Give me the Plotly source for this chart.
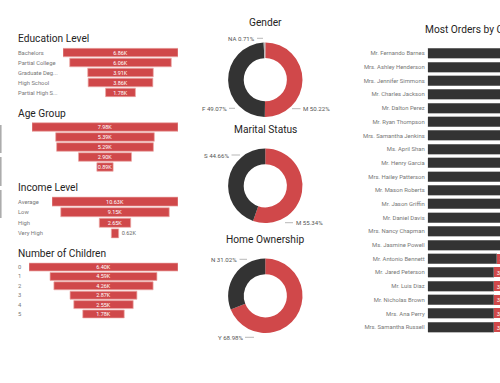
import plotly.graph_objects as go

# ---------------- data ----------------
edu_cats = ["Bachelors", "Partial College", "Graduate Deg...", "High School", "Partial High S..."]
edu_vals = [6.86, 6.06, 3.91, 3.86, 1.78]

age_cats = ["30", "40", "20", "50", "60"]
age_vals = [7.98, 5.39, 5.29, 2.90, 0.89]

inc_cats = ["Average", "Low", "High", "Very High"]
inc_vals = [10.63, 9.15, 2.65, 0.62]

kid_cats = ["0", "2", "1", "4", "3", "5"]
kid_vals = [6.40, 4.59, 4.26, 2.87, 2.55, 1.78]

gender_labels = ["M", "F", "NA"]
gender_vals = [50.22, 49.07, 0.71]
marital_labels = ["M", "S"]
marital_vals = [55.34, 44.66]
home_labels = ["Y", "N"]
home_vals = [68.98, 31.02]

customers = ["Mr. Fernando Barnes", "Mrs. Ashley Henderson", "Mrs. Jennifer Simmons",
             "Mr. Charles Jackson", "Mr. Dalton Perez", "Mr. Ryan Thompson",
             "Mrs. Samantha Jenkins", "Ms. April Shan", "Mr. Henry Garcia",
             "Mrs. Hailey Patterson", "Mr. Mason Roberts", "Mr. Jason Griffin",
             "Mr. Daniel Davis", "Mrs. Nancy Chapman", "Ms. Jasmine Powell",
             "Mr. Antonio Bennett", "Mr. Jared Peterson", "Mr. Luis Diaz",
             "Mr. Nicholas Brown", "Mrs. Ana Perry", "Mrs. Samantha Russell"]
orders_dark = [27, 27, 26, 26, 26, 26, 26, 25, 25, 25, 25, 25, 25, 25, 25, 23, 22, 22, 22, 22, 22]
orders_red = [2, 2, 2, 2, 2, 2, 2, 2, 2, 2, 2, 2, 2, 2, 2, 3, 3, 3, 3, 3, 3]

# ---------------- style ----------------
W, H = 500, 383
RED = "#D0484A"
DARK = "#333333"
LGRAY = "#B8B8B8"
TITLE_C = "#252423"
LABEL_C = "#777777"
FONT = "Roboto"
TITLE_SIZE = 10.2


def fx(px):
    return px / W


def fy(py):
    return 1 - py / H


fig = go.Figure()
annotations = []
layout_axes = {}

# ---------------- funnels ----------------
funnels = [
    ("Education Level", edu_cats, edu_vals, 63, 178, 47.5, 97.5, 38.5),
    ("Age Group", age_cats, age_vals, 32, 178, 122, 172, 113),
    ("Income Level", inc_cats, inc_vals, 52, 178, 196.3, 238.7, 187.5),
    ("Number of Children", kid_cats, kid_vals, 29, 178, 262.3, 318.7, 253),
]

for i, (title, cats, vals, x0, x1, ytop, ybot, ty) in enumerate(funnels, start=1):
    xa, ya = f"x{i}", f"y{i}"
    mx = max(vals)
    tpos = ["inside" if v / mx > 0.1 else "outside" for v in vals]
    fig.add_trace(go.Funnel(
        y=cats, x=vals, xaxis=xa, yaxis=ya,
        marker=dict(color=RED, line=dict(color="#EBA9A6", width=0.7)),
        connector=dict(visible=False),
        texttemplate="%{x:.2f}K", textposition=tpos, textangle=0,
        constraintext="none",
        insidetextfont=dict(color="white", size=5.5, family=FONT),
        outsidetextfont=dict(color="#666666", size=5.5, family=FONT),
        showlegend=False, hoverinfo="x+y",
    ))
    sfx = "" if i == 1 else str(i)
    layout_axes[f"xaxis{sfx}"] = dict(domain=[fx(x0), fx(x1)], range=[-mx / 2, mx / 2],
                                      visible=False, fixedrange=True, anchor=ya)
    layout_axes[f"yaxis{sfx}"] = dict(domain=[fy(ybot), fy(ytop)], type="category",
                                      range=[len(cats) - 0.5, -0.5], visible=False,
                                      anchor=xa, fixedrange=True)
    for c in cats:
        annotations.append(dict(x=fx(16), xref="paper", y=c, yref=ya, text=c,
                                showarrow=False, xanchor="left", yanchor="middle",
                                font=dict(size=5.8, color=LABEL_C, family=FONT)))
    annotations.append(dict(x=fx(15.5), xref="paper", y=fy(ty), yref="paper", text=title,
                            showarrow=False, xanchor="left", yanchor="middle",
                            font=dict(size=TITLE_SIZE, color=TITLE_C, family=FONT)))

# ---------------- donuts ----------------
# label positions: (leader-line tip x, y, text offset in px), in the order of the labels
donuts = [
    ("Gender", gender_labels, gender_vals, [RED, DARK, LGRAY], 79.7, 22.7,
     [(292, 108.7, 24.5), (235, 108.3, -21), (263, 38.3, -22)]),
    ("Marital Status", marital_labels, marital_vals, [RED, DARK], 185.8, 129.5,
     [(285, 222.7, 24), (240, 155, -23.5)]),
    ("Home Ownership", home_labels, home_vals, [RED, DARK], 295.8, 239.5,
     [(254, 337.3, -24), (247, 259.3, -23)]),
]
CX, R = 265.3, 37.2
for title, labs, vals, cols, cy, ty, lblpos in donuts:
    fig.add_trace(go.Pie(
        labels=labs, values=vals, hole=0.58, sort=False, direction="clockwise",
        rotation=0, marker=dict(colors=cols, line=dict(width=0)),
        textinfo="none", showlegend=False,
        domain=dict(x=[fx(CX - R), fx(CX + R)], y=[fy(cy + R), fy(cy - R)]),
    ))
    annotations.append(dict(x=fx(CX), xref="paper", y=fy(ty), yref="paper", text=title,
                            showarrow=False, xanchor="center", yanchor="middle",
                            font=dict(size=TITLE_SIZE, color=TITLE_C, family=FONT)))
    for k, (lab, v) in enumerate(zip(labs, vals)):
        tx, tyy, off = lblpos[k]
        annotations.append(dict(x=fx(tx), xref="paper", y=fy(tyy), yref="paper",
                                text=f"{lab} {v:.2f}%", showarrow=True, arrowhead=0,
                                arrowwidth=0.7, arrowcolor="#9A9A9A", ax=off, ay=0,
                                standoff=0, startstandoff=1,
                                font=dict(size=6.1, color="#555555", family=FONT)))

# ---------------- right bar chart ----------------
fig.add_trace(go.Bar(
    y=customers, x=orders_dark, orientation="h", xaxis="x5", yaxis="y5",
    marker=dict(color=DARK, line=dict(color="#8A8A8A", width=0.6)),
    showlegend=False, hoverinfo="x+y",
))
fig.add_trace(go.Bar(
    y=customers, x=orders_red, orientation="h", xaxis="x5", yaxis="y5",
    marker=dict(color=RED, line=dict(width=0), cornerradius=2),
    text=orders_red, textposition="inside", textangle=0, constraintext="none",
    insidetextanchor="start",
    textfont=dict(color="white", size=6, family=FONT),
    showlegend=False, hoverinfo="x+y",
))
layout_axes["xaxis5"] = dict(domain=[fx(427.7), 1.0], range=[0, 24.1], visible=False,
                             anchor="y5", fixedrange=True)
layout_axes["yaxis5"] = dict(domain=[fy(334), fy(46.5)], type="category",
                             range=[len(customers) - 0.5, -0.5], anchor="x5",
                             showgrid=False, zeroline=False, showline=False, ticks="",
                             ticklabelstandoff=2,
                             tickfont=dict(size=5.9, color=LABEL_C, family=FONT),
                             fixedrange=True)
annotations.append(dict(x=fx(422.5), xref="paper", y=fy(30), yref="paper",
                        text="Most Orders by Customer", showarrow=False,
                        xanchor="left", yanchor="middle",
                        font=dict(size=TITLE_SIZE, color=TITLE_C, family=FONT)))

# ---------------- decorations ----------------
shapes = []
for (a, b) in [(125, 153), (157, 186), (190, 218)]:
    shapes.append(dict(type="line", xref="paper", yref="paper", x0=fx(0.8), x1=fx(0.8),
                       y0=fy(a), y1=fy(b), line=dict(color="#A8A8A8", width=1.5)))

fig.update_layout(
    width=W, height=H, margin=dict(l=0, r=0, t=0, b=0),
    paper_bgcolor="white", plot_bgcolor="white",
    font=dict(family=FONT), barmode="stack", bargap=0.27, funnelgap=0.15,
    annotations=annotations, shapes=shapes,
    **layout_axes,
)

fig.write_html(
    "out.html",
    config={"displayModeBar": False},
    post_script="document.body.style.margin='0';document.body.style.overflow='hidden';",
)
